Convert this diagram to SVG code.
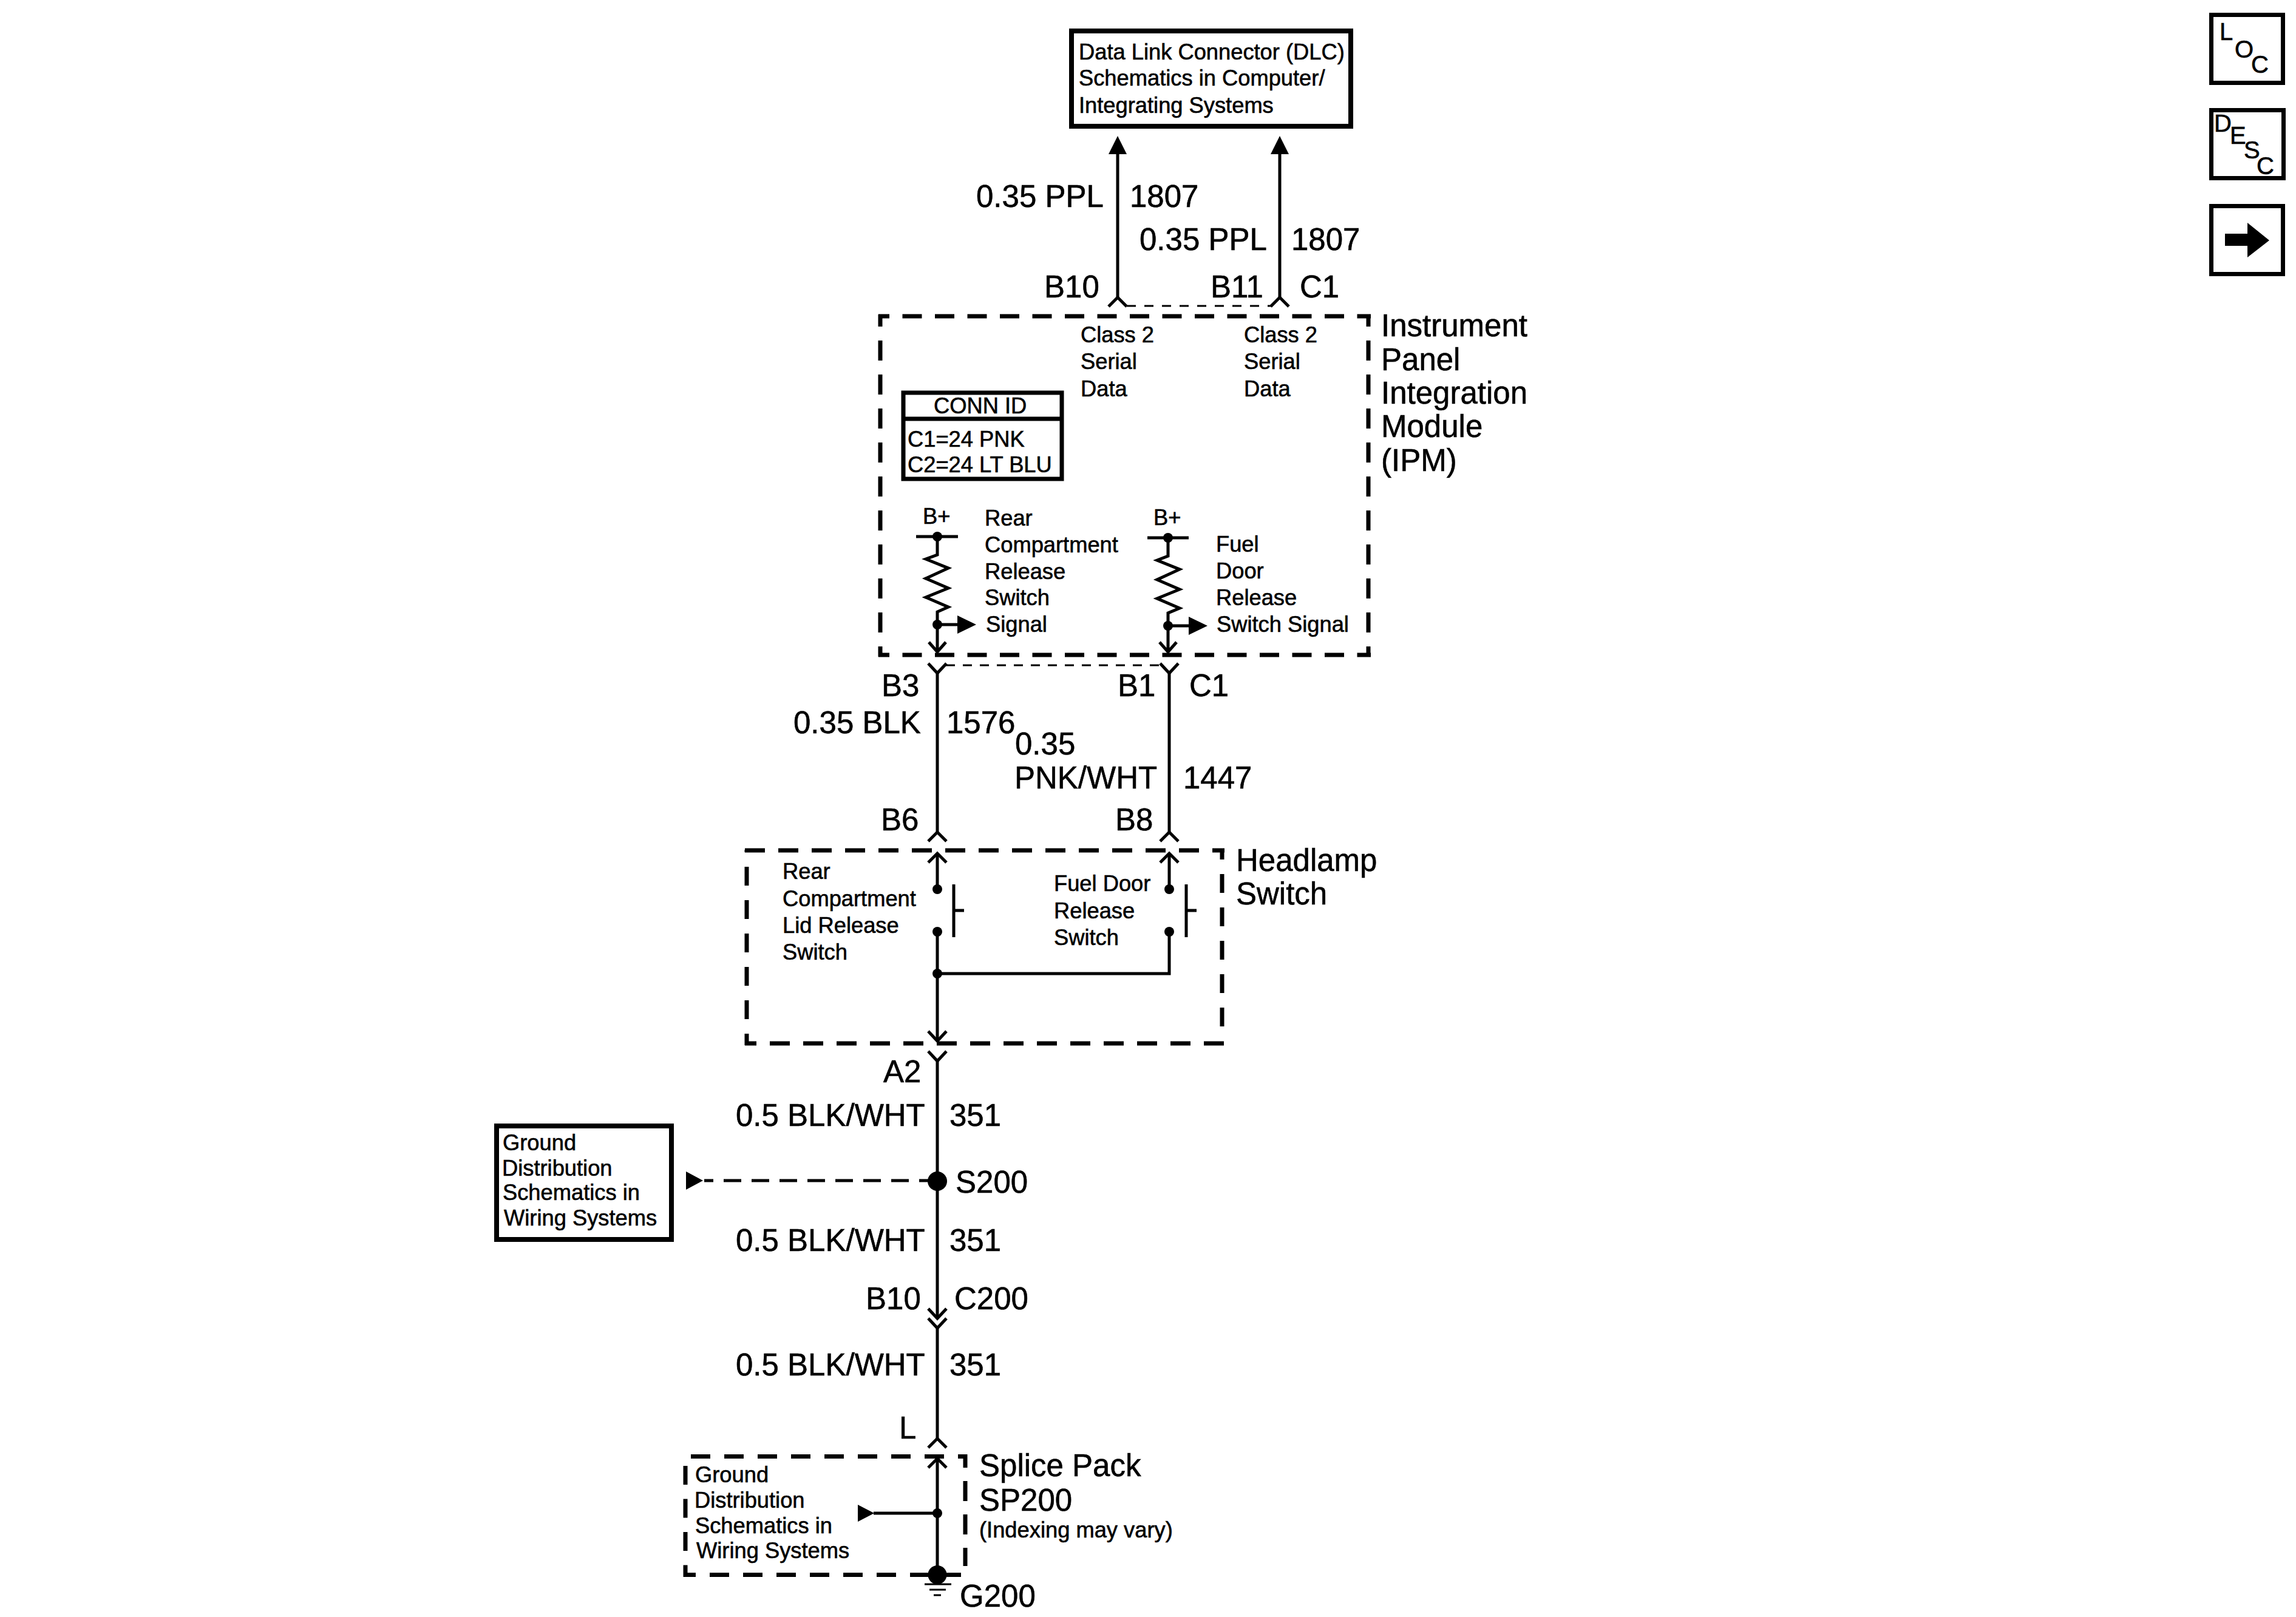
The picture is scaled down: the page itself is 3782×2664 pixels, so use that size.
<svg xmlns="http://www.w3.org/2000/svg" width="3782" height="2664" viewBox="0 0 3782 2664">
<style>
text{font-family:"Liberation Sans",Arial,sans-serif;fill:#000;stroke:#000;stroke-width:.6}
.s{font-size:36.3px}.l{font-size:51px}.i{font-size:40px}
.box{fill:#fff;stroke:#000;stroke-width:8}
.w{fill:none;stroke:#000;stroke-width:5}
.t{fill:none;stroke:#000;stroke-width:3}
.d{fill:none;stroke:#000;stroke-width:7}
.f{fill:#000;stroke:none}
</style>
<defs>
<path id="up" class="w" d="M-15,15 L0,0 L15,15"/>
<path id="dn" class="w" d="M-15,-16 L0,0 L15,-16"/>
</defs>
<rect width="3782" height="2664" fill="#fff"/>
<g id="connectors">
<path class="w" d="M1841,254V490M2108,254V490"/>
<polygon class="f" points="1841,224 1826,254 1856,254"/>
<polygon class="f" points="2108,224 2093,254 2123,254"/>
<use href="#up" x="1841" y="490"/><use href="#up" x="2108" y="490"/>
<path class="t" stroke-dasharray="15 14" d="M1856,504H2094"/>
<path class="w" d="M1544,1109V1371M1926,1109V1371"/>
<use href="#dn" x="1544" y="1109"/><use href="#dn" x="1926" y="1109"/>
<use href="#up" x="1544" y="1371"/><use href="#up" x="1926" y="1371"/>
<path class="t" stroke-dasharray="15 13" d="M1558,1096H1912"/>
<path class="w" d="M1544,1748V2172M1544,2188V2370"/>
<use href="#dn" x="1544" y="1748"/><use href="#dn" x="1544" y="2172"/><use href="#dn" x="1544" y="2188"/><use href="#up" x="1544" y="2370"/>
<path class="w" stroke-dasharray="29 17" stroke-dashoffset="14" d="M1160,1945H1544"/>
<polygon class="f" points="1130,1930 1158,1945 1130,1960"/>
</g>
<g id="dlc">
<rect class="box" x="1765" y="51" width="460" height="157"/>
<text class="s" x="1777" y="98">Data Link Connector (DLC)</text>
<text class="s" x="1777" y="141">Schematics in Computer/</text>
<text class="s" x="1777" y="186">Integrating Systems</text>
</g>
<g id="wire-labels-top">
<text class="l" x="1608" y="341">0.35 PPL</text><text class="l" x="1861" y="341">1807</text>
<text class="l" x="1877" y="412">0.35 PPL</text><text class="l" x="2127" y="412">1807</text>
<text class="l" x="1720" y="490">B10</text><text class="l" x="1994" y="490">B11</text><text class="l" x="2141" y="490">C1</text>
</g>
<g id="ipm">
<path class="d" stroke-dasharray="32 21.5" stroke-dashoffset="14" d="M1447,521H2258"/>
<path class="d" stroke-dasharray="32 21.5" stroke-dashoffset="14" d="M1447,1079H2258"/>
<path class="d" stroke-dasharray="33 23" stroke-dashoffset="13" d="M1450,518V1082"/>
<path class="d" stroke-dasharray="33 23" stroke-dashoffset="13" d="M2254,518V1082"/>
<text class="l" x="2275" y="554">Instrument</text>
<text class="l" x="2275" y="610">Panel</text>
<text class="l" x="2275" y="665">Integration</text>
<text class="l" x="2275" y="720">Module</text>
<text class="l" x="2275" y="776">(IPM)</text>
<text class="s" x="1780" y="564">Class 2</text><text class="s" x="1780" y="608">Serial</text><text class="s" x="1780" y="653">Data</text>
<text class="s" x="2049" y="564">Class 2</text><text class="s" x="2049" y="608">Serial</text><text class="s" x="2049" y="653">Data</text>
</g>
<g id="conn-id">
<rect class="box" x="1488" y="647" width="261" height="142" style="stroke-width:7"/>
<path class="d" d="M1488,690H1749"/>
<text class="s" x="1538" y="681">CONN ID</text>
<text class="s" x="1495" y="736">C1=24 PNK</text>
<text class="s" x="1495" y="778">C2=24 LT BLU</text>
</g>
<g id="ipm-rear-circuit">
<text class="s" x="1520" y="863">B+</text>
<path class="w" d="M1509,884H1578M1544,884V914L1525,921L1562,936L1525,953L1562,969L1525,984L1562,1000L1544,1008V1074M1544,1029H1578M1530,1058L1544,1074L1558,1058"/>
<circle class="f" cx="1544" cy="884" r="8"/><circle class="f" cx="1544" cy="1029" r="8"/>
<polygon class="f" points="1577,1014 1608,1029 1577,1044"/>
<text class="s" x="1622" y="866">Rear</text><text class="s" x="1622" y="910">Compartment</text><text class="s" x="1622" y="954">Release</text><text class="s" x="1622" y="997">Switch</text><text class="s" x="1624" y="1041">Signal</text>
</g>
<g id="ipm-fuel-circuit">
<text class="s" x="1900" y="865">B+</text>
<path class="w" d="M1890,886H1958M1924,886V916L1906,923L1943,938L1906,955L1943,971L1906,986L1943,1002L1924,1010V1074M1924,1031H1959M1910,1058L1924,1074L1938,1058"/>
<circle class="f" cx="1924" cy="886" r="8"/><circle class="f" cx="1924" cy="1031" r="8"/>
<polygon class="f" points="1958,1016 1989,1031 1958,1046"/>
<text class="s" x="2003" y="909">Fuel</text><text class="s" x="2003" y="953">Door</text><text class="s" x="2003" y="997">Release</text><text class="s" x="2004" y="1041">Switch Signal</text>
</g>
<g id="wire-labels-mid">
<text class="l" x="1452" y="1147">B3</text><text class="l" x="1841" y="1147">B1</text><text class="l" x="1959" y="1147">C1</text>
<text class="l" x="1307" y="1208">0.35 BLK</text><text class="l" x="1559" y="1208">1576</text>
<text class="l" x="1672" y="1243">0.35</text><text class="l" x="1671" y="1299">PNK/WHT</text><text class="l" x="1949" y="1299">1447</text>
<text class="l" x="1451" y="1368">B6</text><text class="l" x="1837" y="1368">B8</text>
</g>
<g id="headlamp-switch">
<path class="d" stroke-dasharray="33 22" d="M1227,1401H2017"/>
<path class="d" stroke-dasharray="33 22" stroke-dashoffset="14" d="M1227,1719H2017"/>
<path class="d" stroke-dasharray="31 24" stroke-dashoffset="-28" d="M1230,1400V1722"/>
<path class="d" stroke-dasharray="31 24" stroke-dashoffset="13" d="M2013,1398V1694"/>
<text class="l" x="2036" y="1435">Headlamp</text><text class="l" x="2036" y="1490">Switch</text>
<path class="w" d="M1544,1406V1465M1544,1535V1715M1544,1604H1926V1535M1926,1406V1465"/>
<use href="#up" x="1544" y="1406"/><use href="#up" x="1926" y="1406"/><use href="#dn" x="1544" y="1715"/>
<circle class="f" cx="1544" cy="1465" r="8"/><circle class="f" cx="1544" cy="1535" r="8"/><circle class="f" cx="1544" cy="1604" r="8"/>
<circle class="f" cx="1926" cy="1465" r="8"/><circle class="f" cx="1926" cy="1535" r="8"/>
<path class="w" d="M1571,1457V1544M1571,1500H1588M1954,1457V1544M1954,1500H1971"/>
<text class="s" x="1289" y="1448">Rear</text><text class="s" x="1289" y="1493">Compartment</text><text class="s" x="1289" y="1537">Lid Release</text><text class="s" x="1289" y="1581">Switch</text>
<text class="s" x="1736" y="1468">Fuel Door</text><text class="s" x="1736" y="1513">Release</text><text class="s" x="1736" y="1557">Switch</text>
</g>
<g id="s200-run">
<text class="l" x="1455" y="1783">A2</text>
<text class="l" x="1212" y="1855">0.5 BLK/WHT</text><text class="l" x="1564" y="1855">351</text>
<circle class="f" cx="1544" cy="1946" r="16"/>
<text class="l" x="1574" y="1965">S200</text>
<text class="l" x="1212" y="2061">0.5 BLK/WHT</text><text class="l" x="1564" y="2061">351</text>
<text class="l" x="1426" y="2157">B10</text><text class="l" x="1572" y="2157">C200</text>
<text class="l" x="1212" y="2266">0.5 BLK/WHT</text><text class="l" x="1564" y="2266">351</text>
<text class="l" x="1481" y="2370">L</text>
</g>
<g id="ground-distribution">
<rect class="box" x="818" y="1855" width="288" height="187"/>
<text class="s" x="828" y="1895">Ground</text><text class="s" x="827" y="1937">Distribution</text><text class="s" x="828" y="1977">Schematics in</text><text class="s" x="830" y="2019">Wiring Systems</text>
</g>
<g id="splice-pack">
<path class="d" stroke-dasharray="32 23" d="M1138,2399.5H1593"/>
<path class="d" stroke-dasharray="32 23" stroke-dashoffset="12" d="M1126,2594.5H1583"/>
<path class="d" stroke-dasharray="31 23.5" d="M1129,2415V2598"/>
<path class="d" stroke-dasharray="33 22" stroke-dashoffset="11" d="M1590,2396V2580"/>
<path class="w" d="M1544,2403V2594M1544,2493H1439"/>
<use href="#up" x="1544" y="2403"/>
<circle class="f" cx="1544" cy="2493" r="8"/>
<polygon class="f" points="1413,2479 1440,2493 1413,2507"/>
<circle class="f" cx="1544" cy="2594.5" r="15.5"/>
<path class="w" d="M1544,2594V2610"/>
<path class="t" d="M1523,2610H1567M1531,2619H1558M1538,2628H1550"/>
<text class="s" x="1145" y="2442">Ground</text><text class="s" x="1144" y="2484">Distribution</text><text class="s" x="1145" y="2526">Schematics in</text><text class="s" x="1147" y="2567">Wiring Systems</text>
<text class="l" x="1613" y="2432">Splice Pack</text><text class="l" x="1613" y="2489">SP200</text>
<text class="s" x="1613" y="2533">(Indexing may vary)</text>
<text class="l" x="1581" y="2647">G200</text>
</g>
<g id="loc-icon">
<rect class="box" x="3642.5" y="24.5" width="118" height="112" style="stroke-width:7"/>
<text class="i" x="3656" y="66">L</text><text class="i" x="3681" y="95">O</text><text class="i" x="3708" y="120">C</text>
</g>
<g id="desc-icon">
<rect class="box" x="3642.5" y="181.5" width="119" height="112" style="stroke-width:7"/>
<text class="i" x="3647" y="217">D</text><text class="i" x="3673" y="237">E</text><text class="i" x="3696" y="261">S</text><text class="i" x="3717" y="287">C</text>
</g>
<g id="next-icon">
<rect class="box" x="3642.5" y="339.5" width="118" height="112" style="stroke-width:7"/>
<polygon class="f" points="3665,385 3702,385 3702,367 3738,396 3702,424 3702,405 3665,405"/>
</g>
</svg>
